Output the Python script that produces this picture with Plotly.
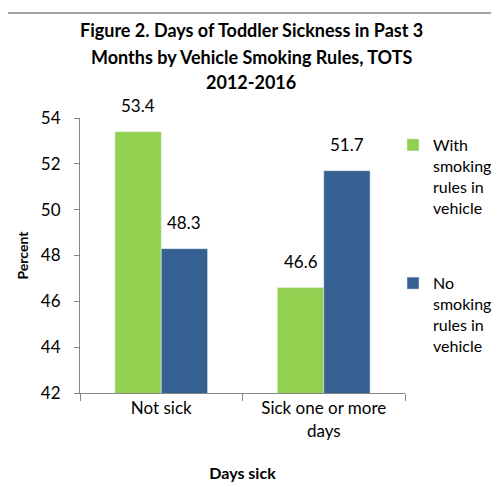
import plotly.graph_objects as go

categories = ["Not sick", "Sick one or more days"]
tick_labels = ["Not sick", "Sick one or more<br>days"]
with_rules = [53.4, 46.6]
no_rules = [48.3, 51.7]
series_names = ["With<br>smoking<br>rules in<br>vehicle", "No<br>smoking<br>rules in<br>vehicle"]
title_lines = ["Figure 2. Days of Toddler Sickness in Past 3",
               "Months by Vehicle Smoking Rules, TOTS",
               "2012-2016"]

FONT = "Lato, 'Open Sans', sans-serif"
OFF = 8  # browser body margin
W, H = 499 - OFF, 487 - OFF
# plot area in page pixels: x 80..405, y 118..393
L = 80 - OFF
R = W - (405 - OFF)
T = 118 - OFF
B = H - (393 - OFF)
pw, ph = W - L - R, H - T - B

def px_x(p):
    return (p - OFF - L) / pw

def px_y(p):
    return 1 - (p - OFF - T) / ph

fig = go.Figure()
fig.add_bar(x=categories, y=with_rules, name=series_names[0], marker_color="#92D050",
            legendgroup="g1")
fig.add_bar(x=categories, y=no_rules, name=series_names[1], marker_color="#376092",
            legendgroup="g2")

annotations = []
for series, shift in ((with_rules, -23), (no_rules, 23)):
    for c, v in zip(categories, series):
        annotations.append(dict(x=c, y=v, xref="x", yref="y", text=f"{v:.1f}",
                                showarrow=False, xshift=shift, yshift=26,
                                yanchor="middle", xanchor="center",
                                font=dict(size=17, family=FONT, color="#000")))
for line, yc in zip(title_lines, (30, 57, 82)):
    annotations.append(dict(x=px_x(251), y=px_y(yc), xref="paper", yref="paper",
                            text=f"<b>{line}</b>", showarrow=False, xanchor="center",
                            yanchor="middle", font=dict(size=18, family=FONT, color="#000")))

fig.update_layout(
    width=W, height=H,
    margin=dict(l=L, r=R, t=T, b=B, autoexpand=False),
    paper_bgcolor="white", plot_bgcolor="white",
    font=dict(family=FONT, size=16, color="#000"),
    barmode="group", bargap=0.43, bargroupgap=0,
    showlegend=True,
    legend=dict(x=px_x(393), y=px_y(128), xanchor="left", yanchor="top",
                font=dict(size=16, family=FONT), valign="top",
                tracegroupgap=52, itemwidth=30, bgcolor="rgba(0,0,0,0)"),
    xaxis=dict(tickvals=categories, ticktext=tick_labels, showline=True, linecolor="#878787",
               linewidth=1, ticks="outside", tickson="boundaries", ticklen=7, tickcolor="#878787",
               showgrid=False, tickfont=dict(size=17), automargin=False,
               title=dict(text="<b>Days sick</b>", font=dict(size=16), standoff=28)),
    yaxis=dict(range=[42, 54], dtick=2, showline=True, linecolor="#878787", linewidth=1,
               ticks="outside", ticklen=5, tickcolor="#878787", showgrid=False,
               tickfont=dict(size=17), zeroline=False, ticklabelstandoff=10, automargin=False,
               title=dict(text="<b>Percent</b>", font=dict(size=14), standoff=8)),
    annotations=annotations,
    shapes=[dict(type="rect", xref="paper", yref="paper",
                 x0=px_x(6), x1=px_x(498), y0=px_y(13), y1=px_y(520),
                 line=dict(color="#878787", width=1.5), layer="below")],
)

fig.write_html("out.html")
